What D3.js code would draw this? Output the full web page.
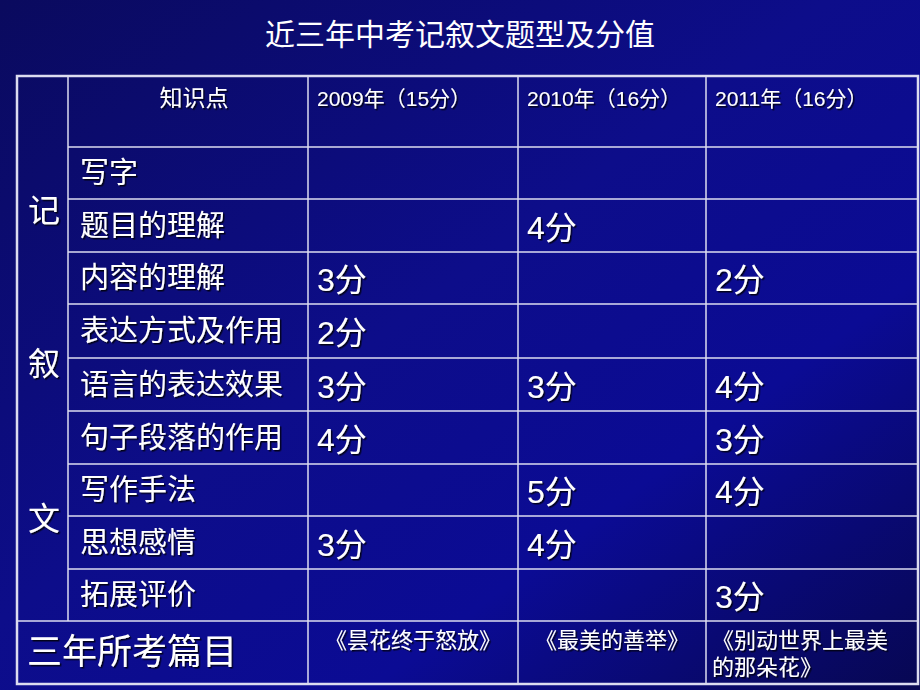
<!DOCTYPE html><html><head><meta charset="utf-8"><script src="https://cdn.jsdelivr.net/npm/d3@7"></script>
<style>body{margin:0;background:#06065a}text{font-family:"Liberation Sans","Noto Sans CJK SC",sans-serif;fill:#fff}</style></head><body>
<script>
const title="近三年中考记叙文题型及分值";
const years=["2009年（15分）","2010年（16分）","2011年（16分）"];
const topics=["写字","题目的理解","内容的理解","表达方式及作用","语言的表达效果","句子段落的作用","写作手法","思想感情","拓展评价"];
const v2009=["","","3分","2分","3分","4分","","3分",""];
const v2010=["","4分","","","3分","","5分","4分",""];
const v2011=["","","2分","","4分","3分","4分","","3分"];
const texts=[["《昙花终于怒放》"],["《最美的善举》"],["《别动世界上最美","的那朵花》"]];
const sideChars=["记","叙","文"];
const W=920,H=690;
const svg=d3.select("body").append("svg").attr("width",W).attr("height",H);
const defs=svg.append("defs");
const g=defs.append("linearGradient").attr("id","bg").attr("x1","0").attr("y1","0").attr("x2","1").attr("y2","1");
[[0,"#0a0a5e"],[0.45,"#0d0d8a"],[0.7,"#0b0b94"],[1,"#070752"]].forEach(d=>g.append("stop").attr("offset",d[0]).attr("stop-color",d[1]));
const f=defs.append("filter").attr("id","sh");f.append("feDropShadow").attr("dx",1.5).attr("dy",1.5).attr("stdDeviation",0.3).attr("flood-color","#000").attr("flood-opacity",0.8);
svg.append("rect").attr("width",W).attr("height",H).attr("fill","url(#bg)");
svg.append("text").attr("x",460).attr("y",45).attr("text-anchor","middle").attr("font-size",30).text(title);
const colX=[17,68,308,518,706,918];
const rowY=[76,147,199,252,304,358,411,464,516,569,621,684];
const L=svg.append("g").attr("stroke","#dcdcf0").attr("stroke-width",1.5);
L.append("rect").attr("x",17).attr("y",76).attr("width",901).attr("height",608).attr("fill","none").attr("stroke-width",2.5);
rowY.slice(1,-1).forEach((y,i)=>L.append("line").attr("x1",i==rowY.length-3?17:68).attr("x2",918).attr("y1",y).attr("y2",y));
colX.slice(1,-1).forEach((x,i)=>L.append("line").attr("x1",x).attr("x2",x).attr("y1",76).attr("y2",i==0?621:684));
const T=svg.append("g").attr("filter","url(#sh)");
T.append("text").attr("x",194).attr("y",106).attr("text-anchor","middle").attr("font-size",23).text("知识点");
years.forEach((y,i)=>T.append("text").attr("x",colX[i+2]+9).attr("y",106).attr("font-size",21).text(y));
topics.forEach((t,i)=>T.append("text").attr("x",80).attr("y",(rowY[i+1]+rowY[i+2])/2+10).attr("font-size",29).text(t));
[v2009,v2010,v2011].forEach((arr,c)=>arr.forEach((v,i)=>{if(v)T.append("text").attr("x",colX[c+2]+9).attr("y",(rowY[i+1]+rowY[i+2])/2+13).attr("font-size",32).text(v);}));
[210,363,518].forEach((y,i)=>T.append("text").attr("x",44).attr("y",y+12).attr("text-anchor","middle").attr("font-size",32).text(sideChars[i]));
T.append("text").attr("x",27).attr("y",664).attr("font-size",35).text("三年所考篇目");
texts.forEach((ls,c)=>ls.forEach((l,j)=>T.append("text").attr("x",c==2?colX[c+2]+6:(colX[c+2]+colX[c+3])/2).attr("text-anchor",c==2?"start":"middle").attr("y",648+j*27).attr("font-size",22).text(l)));
</script></body></html>
